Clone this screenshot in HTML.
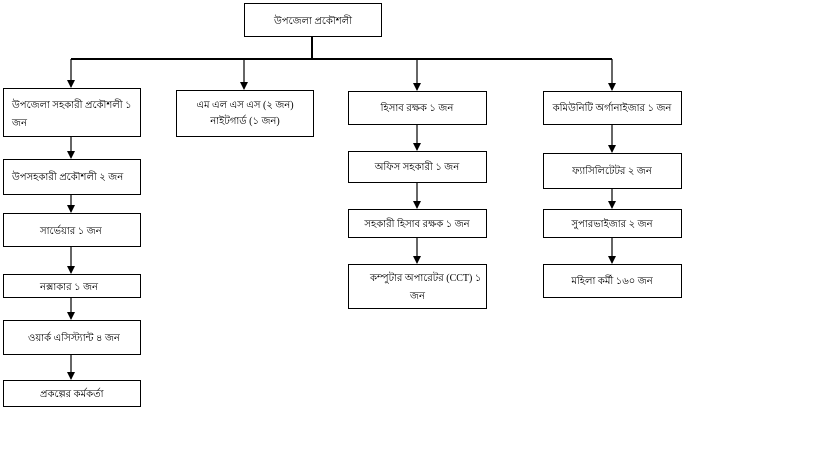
<!DOCTYPE html>
<html><head><meta charset="utf-8"><style>
html,body{margin:0;padding:0;background:#fff;}
svg text{font-family:"Liberation Serif","Noto Sans CJK SC",serif;font-size:10px;fill:#000;}
</style></head><body>
<svg width="819" height="460" viewBox="0 0 819 460" xmlns="http://www.w3.org/2000/svg">
<defs><marker id="a" markerWidth="8" markerHeight="8" refX="7" refY="4" orient="auto" markerUnits="userSpaceOnUse"><path d="M0,0 L8,4 L0,8 z" fill="#000"/></marker></defs>
<g fill="none" stroke="#000" stroke-width="1">
<rect x="244.5" y="3.5" width="137" height="33"/>
<rect x="3.5" y="88.5" width="137" height="48"/>
<rect x="176.5" y="90.5" width="137" height="46"/>
<rect x="348.5" y="91.5" width="138" height="33"/>
<rect x="543.5" y="91.5" width="138" height="33"/>
<rect x="3.5" y="159.5" width="137" height="35"/>
<rect x="3.5" y="213.5" width="137" height="33"/>
<rect x="3.5" y="274.5" width="137" height="23"/>
<rect x="3.5" y="320.5" width="137" height="34"/>
<rect x="3.5" y="380.5" width="137" height="26"/>
<rect x="348.5" y="151.5" width="138" height="31"/>
<rect x="348.5" y="209.5" width="138" height="28"/>
<rect x="348.5" y="264.5" width="138" height="44"/>
<rect x="543.5" y="153.5" width="138" height="35"/>
<rect x="543.5" y="209.5" width="138" height="28"/>
<rect x="543.5" y="264.5" width="138" height="33"/>
</g>
<g stroke="#000" stroke-width="2" fill="none">
<line x1="312" y1="37" x2="312" y2="59"/>
<line x1="71" y1="59" x2="612" y2="59"/>
</g>
<g stroke="#000" stroke-width="1.2" fill="none" marker-end="url(#a)">
<line x1="71" y1="59" x2="71" y2="87"/>
<line x1="244" y1="59" x2="244" y2="89"/>
<line x1="417" y1="59" x2="417" y2="90"/>
<line x1="612" y1="59" x2="612" y2="90"/>
<line x1="71" y1="137" x2="71" y2="158"/>
<line x1="71" y1="195" x2="71" y2="212"/>
<line x1="71" y1="247" x2="71" y2="273"/>
<line x1="71" y1="298" x2="71" y2="319"/>
<line x1="71" y1="355" x2="71" y2="379"/>
<line x1="417" y1="125" x2="417" y2="150"/>
<line x1="417" y1="183" x2="417" y2="208"/>
<line x1="417" y1="238" x2="417" y2="263"/>
<line x1="612" y1="125" x2="612" y2="152"/>
<line x1="612" y1="189" x2="612" y2="208"/>
<line x1="612" y1="238" x2="612" y2="263"/>
</g>
<text x="313" y="24" text-anchor="middle">উপজেলা প্রকৌশলী</text>
<text x="12" y="108">উপজেলা সহকারী প্রকৌশলী ১</text>
<text x="12" y="126">জন</text>
<text x="245" y="108" text-anchor="middle">এম এল এস এস (২ জন)</text>
<text x="245" y="124" text-anchor="middle">নাইটগার্ড (১ জন)</text>
<text x="417" y="111" text-anchor="middle">হিসাব রক্ষক ১ জন</text>
<text x="612" y="111" text-anchor="middle">কমিউনিটি অর্গানাইজার ১ জন</text>
<text x="12" y="180">উপসহকারী প্রকৌশলী ২ জন</text>
<text x="40" y="234">সার্ভেয়ার  ১ জন</text>
<text x="40" y="290">নক্সাকার  ১ জন</text>
<text x="28" y="341">ওয়ার্ক এসিস্ট্যান্ট ৪ জন</text>
<text x="40" y="397">প্রকল্পের কর্মকর্তা</text>
<text x="417" y="170" text-anchor="middle">অফিস সহকারী ১ জন</text>
<text x="417" y="227" text-anchor="middle">সহকারী হিসাব রক্ষক ১ জন</text>
<text x="370" y="281">কম্পুটার অপারেটর (CCT) ১</text>
<text x="410" y="299">জন</text>
<text x="612" y="174" text-anchor="middle">ফ্যাসিলিটেটর ২ জন</text>
<text x="612" y="227" text-anchor="middle">সুপারভাইজার ২ জন</text>
<text x="612" y="284" text-anchor="middle">মহিলা কর্মী ১৬০ জন</text>
</svg>
</body></html>
